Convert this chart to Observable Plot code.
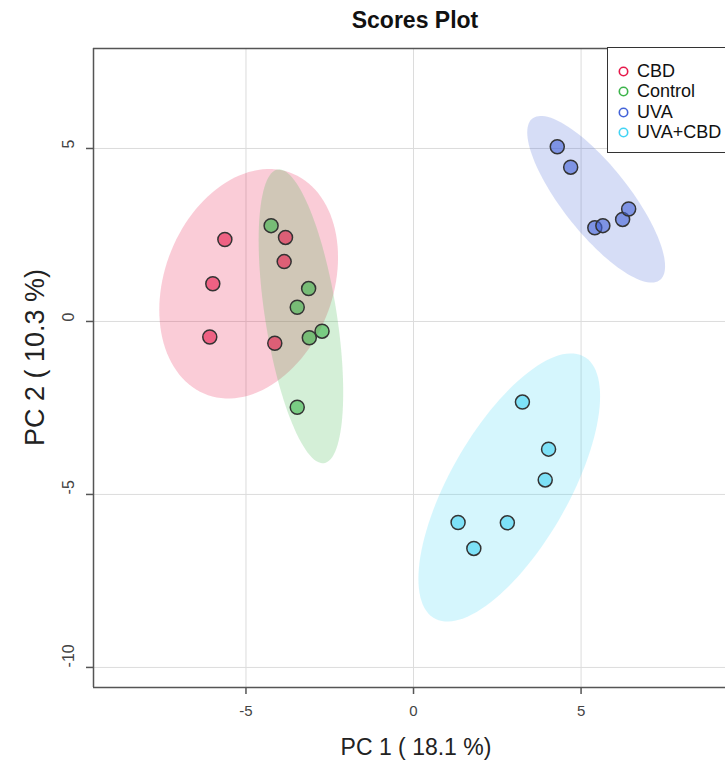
<!DOCTYPE html>
<html>
<head>
<meta charset="utf-8">
<script src="https://cdn.jsdelivr.net/npm/d3@7"></script>
<script src="https://cdn.jsdelivr.net/npm/@observablehq/plot@0.6"></script>
<style>
  html, body { margin: 0; padding: 0; background: #fff; width: 725px; height: 765px; overflow: hidden; }
  body { position: relative; font-family: "Liberation Sans", Arial, sans-serif; }
  #chart { position: absolute; left: 0; top: 0; }
  .title { position: absolute; left: 0; width: 830px; top: 7px; text-align: center; font-weight: bold; font-size: 23px; color: #111; }
  .xlab { position: absolute; left: 0; width: 832px; top: 734px; text-align: center; font-size: 23px; color: #222; }
  .ylab { position: absolute; left: 35px; top: 357px; width: 300px; margin-left: -150px; margin-top: -15px; text-align: center; font-size: 27px; color: #222; transform: rotate(-90deg); }
  .legend { position: absolute; left: 607px; top: 47px; width: 140px; height: 106px; border: 1.5px solid #333; background: #fff; box-sizing: border-box; padding-top: 13px; }
  .legend .row { display: flex; align-items: center; height: 20.5px; font-size: 18px; color: #111; }
  .legend svg { margin-left: 10px; margin-right: 8px; }
</style>
</head>
<body>
<div id="chart"></div>
<div class="title">Scores Plot</div>
<div class="xlab">PC 1 ( 18.1 %)</div>
<div class="ylab">PC 2 ( 10.3 %)</div>
<div class="legend" id="legend"></div>
<script>
// Groups and colours
const groups = ["CBD", "Control", "UVA", "UVA+CBD"];
const colors = ["#e6194B", "#3cb44b", "#4363d8", "#42d4f4"];

// Scores (PC1, PC2)
const cbdPC1 = [-5.63, -5.99, -6.08, -3.82, -3.86, -4.14];
const cbdPC2 = [2.37, 1.09, -0.45, 2.43, 1.73, -0.63];
const controlPC1 = [-4.25, -3.13, -3.47, -2.73, -3.11, -3.47];
const controlPC2 = [2.77, 0.95, 0.41, -0.28, -0.47, -2.48];
const uvaPC1 = [4.29, 4.69, 5.41, 5.65, 6.24, 6.42];
const uvaPC2 = [5.05, 4.46, 2.71, 2.77, 2.95, 3.25];
const uvacbdPC1 = [3.25, 4.03, 3.93, 1.33, 2.80, 1.80];
const uvacbdPC2 = [-2.33, -3.69, -4.58, -5.81, -5.82, -6.56];

// Axis ticks
const xTicks = [-5, 0, 5];
const yTicks = [-10, -5, 0, 5];
const xDomain = [-9.55, 9.31];
const yDomain = [-10.58, 7.89];

const pc1 = [cbdPC1, controlPC1, uvaPC1, uvacbdPC1];
const pc2 = [cbdPC2, controlPC2, uvaPC2, uvacbdPC2];

const points = [];
groups.forEach((g, i) => pc1[i].forEach((x, j) => points.push({group: g, x, y: pc2[i][j]})));

// 95% confidence ellipses computed from each group's scores
const chi2 = 5.991;
const ellipses = [];
groups.forEach((g, i) => {
  const xs = pc1[i], ys = pc2[i], n = xs.length;
  const mx = d3.mean(xs), my = d3.mean(ys);
  let sxx = 0, syy = 0, sxy = 0;
  for (let k = 0; k < n; k++) { sxx += (xs[k]-mx)**2; syy += (ys[k]-my)**2; sxy += (xs[k]-mx)*(ys[k]-my); }
  sxx /= n-1; syy /= n-1; sxy /= n-1;
  const l11 = Math.sqrt(sxx), l21 = sxy / l11, l22 = Math.sqrt(syy - l21*l21);
  const r = Math.sqrt(chi2);
  for (let t = 0; t < 120; t++) {
    const a = 2*Math.PI*t/120, c = Math.cos(a), s = Math.sin(a);
    ellipses.push({group: g, x: mx + r*l11*c, y: my + r*(l21*c + l22*s)});
  }
});

const chart = Plot.plot({
  width: 725,
  height: 765,
  marginTop: 48,
  marginBottom: 78,
  marginLeft: 93,
  marginRight: 0,
  style: {fontFamily: "Liberation Sans, Arial, sans-serif", background: "white"},
  x: {domain: xDomain, label: null},
  y: {domain: yDomain, label: null},
  color: {domain: groups, range: colors},
  marks: [
    Plot.gridX(xTicks, {stroke: "#dcdcdc", strokeOpacity: 1}),
    Plot.gridY(yTicks, {stroke: "#dcdcdc", strokeOpacity: 1}),
    Plot.line(ellipses, {x: "x", y: "y", z: "group", fill: "group", fillOpacity: 0.22, stroke: null, curve: "linear-closed"}),
    Plot.dot(points, {x: "x", y: "y", fill: "group", fillOpacity: 0.6, stroke: "#333", strokeWidth: 1.5, r: 7}),
    Plot.ruleX([xDomain[0]], {stroke: "#555", strokeWidth: 1.5}),
    Plot.ruleY([yDomain[0]], {stroke: "#555", strokeWidth: 1.5}),
    Plot.ruleY([yDomain[1]], {stroke: "#555", strokeWidth: 1.5}),
    Plot.axisX({ticks: xTicks, tickSize: 7, tickFormat: () => "", label: null, stroke: "#555", strokeWidth: 1.5}),
    Plot.axisY({ticks: yTicks, tickSize: 7, tickFormat: () => "", label: null, stroke: "#555", strokeWidth: 1.5}),
    Plot.text(xTicks, {x: d => d, text: d => String(d), frameAnchor: "bottom", dy: 28, fontSize: 15, fill: "#444"}),
    Plot.text(yTicks, {y: d => d, text: d => String(d), frameAnchor: "left", dx: -25, rotate: -90, fontSize: 16, fill: "#444"})
  ]
});
document.getElementById("chart").appendChild(chart);

// Legend
const leg = document.getElementById("legend");
groups.forEach((g, i) => {
  const row = document.createElement("div");
  row.className = "row";
  row.innerHTML = `<svg width="11" height="11"><circle cx="5.5" cy="5.5" r="4.2" fill="none" stroke="${colors[i]}" stroke-width="1.6"/></svg><span>${g}</span>`;
  leg.appendChild(row);
});
</script>
</body>
</html>
